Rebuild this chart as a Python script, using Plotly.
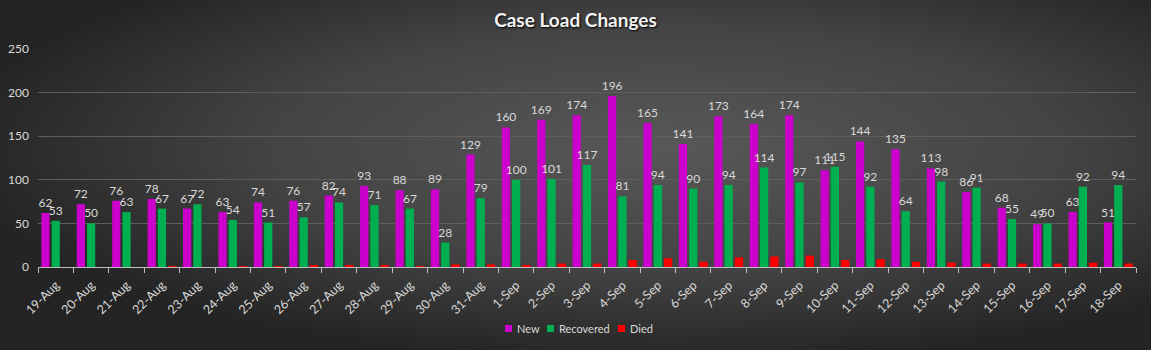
import base64
import plotly.graph_objects as go

dates = ["19-Aug", "20-Aug", "21-Aug", "22-Aug", "23-Aug", "24-Aug", "25-Aug", "26-Aug",
         "27-Aug", "28-Aug", "29-Aug", "30-Aug", "31-Aug", "1-Sep", "2-Sep", "3-Sep",
         "4-Sep", "5-Sep", "6-Sep", "7-Sep", "8-Sep", "9-Sep", "10-Sep", "11-Sep",
         "12-Sep", "13-Sep", "14-Sep", "15-Sep", "16-Sep", "17-Sep", "18-Sep"]
new_cases = [62, 72, 76, 78, 67, 63, 74, 76, 82, 93, 88, 89, 129, 160, 169, 174,
             196, 165, 141, 173, 164, 174, 111, 144, 135, 113, 86, 68, 49, 63, 51]
recovered = [53, 50, 63, 67, 72, 54, 51, 57, 74, 71, 67, 28, 79, 100, 101, 117,
             81, 94, 90, 94, 114, 97, 115, 92, 64, 98, 91, 55, 50, 92, 94]
died = [0, 0, 0, 1, 0, 1, 1, 2, 2, 2, 1, 3, 3, 2, 4, 4,
        8, 10, 6, 11, 12, 13, 8, 9, 6, 5, 4, 4, 4, 5, 4]
series_names = ["New", "Recovered", "Died"]
series_colors = ["#CC00CC", "#00B050", "#FF0000"]

W, H = 1151, 350
ML, MR, MT, MB = 38, 15, 49, 83
pw, ph = W - ML - MR, H - MT - MB


def px_x(p):
    return (p - ML) / pw


def px_y(p):
    return (H - MB - p) / ph


svg = f'''<svg xmlns="http://www.w3.org/2000/svg" width="{W}" height="{H}" viewBox="0 0 {W} {H}" preserveAspectRatio="none">
<defs><radialGradient id="g" cx="0.58" cy="0.42" r="0.62" gradientUnits="objectBoundingBox">
<stop offset="0" stop-color="#585858"/><stop offset="0.55" stop-color="#444444"/><stop offset="1" stop-color="#242424"/>
</radialGradient></defs>
<rect width="{W}" height="{H}" fill="url(#g)"/></svg>'''
src = "data:image/svg+xml;base64," + base64.b64encode(svg.encode()).decode()

FONT = "Lato, Open Sans, sans-serif"
lbl = dict(color="#d9d9d9", size=12, family=FONT)

fig = go.Figure()
fig.add_trace(go.Bar(name=series_names[0], x=dates, y=new_cases, marker_color=series_colors[0],
                     marker_line_width=0,
                     text=new_cases, textposition="outside", textfont=lbl,
                     constraintext="none", cliponaxis=False))
fig.add_trace(go.Bar(name=series_names[1], x=dates, y=recovered, marker_color=series_colors[1],
                     marker_line_width=0,
                     text=recovered, textposition="outside", textfont=lbl,
                     constraintext="none", cliponaxis=False))
fig.add_trace(go.Bar(name=series_names[2], x=dates, y=died, marker_color=series_colors[2],
                     marker_line_width=0))

# legend (drawn compactly like the original)
shapes = []
annotations = []
sq_x = [505, 547, 618]
for name, col, sx in zip(series_names, series_colors, sq_x):
    shapes.append(dict(type="rect", xref="paper", yref="paper",
                       x0=px_x(sx), x1=px_x(sx + 7), y0=px_y(332), y1=px_y(325),
                       fillcolor=col, line=dict(width=0)))
    annotations.append(dict(text=name, xref="paper", yref="paper", x=px_x(sx + 10), y=px_y(328.5),
                            xanchor="left", yanchor="middle", showarrow=False,
                            font=dict(size=11, color="#d9d9d9", family=FONT)))

fig.update_layout(
    width=W, height=H,
    margin=dict(l=ML, r=MR, t=MT, b=MB, pad=0, autoexpand=False),
    paper_bgcolor="#363636", plot_bgcolor="rgba(0,0,0,0)",
    font=dict(family=FONT, color="#d9d9d9", size=11),
    title=dict(text="<b>Case Load Changes</b>", x=0.5, xanchor="center", y=1 - 20 / H, yanchor="middle",
               font=dict(size=19, color="#f2f2f2", family=FONT,
                         shadow="1px 1px 2px #000000")),
    barmode="group", bargap=0.13, bargroupgap=0.2,
    showlegend=False,
    xaxis=dict(type="category", tickangle=-45, tickson="boundaries", ticks="outside",
               ticklen=5, tickcolor="#bfbfbf", showline=True, linecolor="#bfbfbf",
               linewidth=1, showgrid=False, automargin=False, ticklabelstandoff=5,
               tickfont=dict(size=12.5, color="#d9d9d9")),
    yaxis=dict(range=[0, 250], dtick=50, showgrid=True, gridcolor="#5e5e5e", gridwidth=1,
               zeroline=False, showline=False, ticks="", ticklabelstandoff=8, automargin=False,
               tickfont=dict(size=12, color="#d9d9d9")),
    shapes=shapes,
    annotations=annotations,
    images=[dict(source=src, xref="paper", yref="paper", x=-ML / pw, y=1 + MT / ph,
                 sizex=W / pw, sizey=H / ph, sizing="stretch", xanchor="left", yanchor="top",
                 layer="below")],
)

fig.write_html("out.html")
